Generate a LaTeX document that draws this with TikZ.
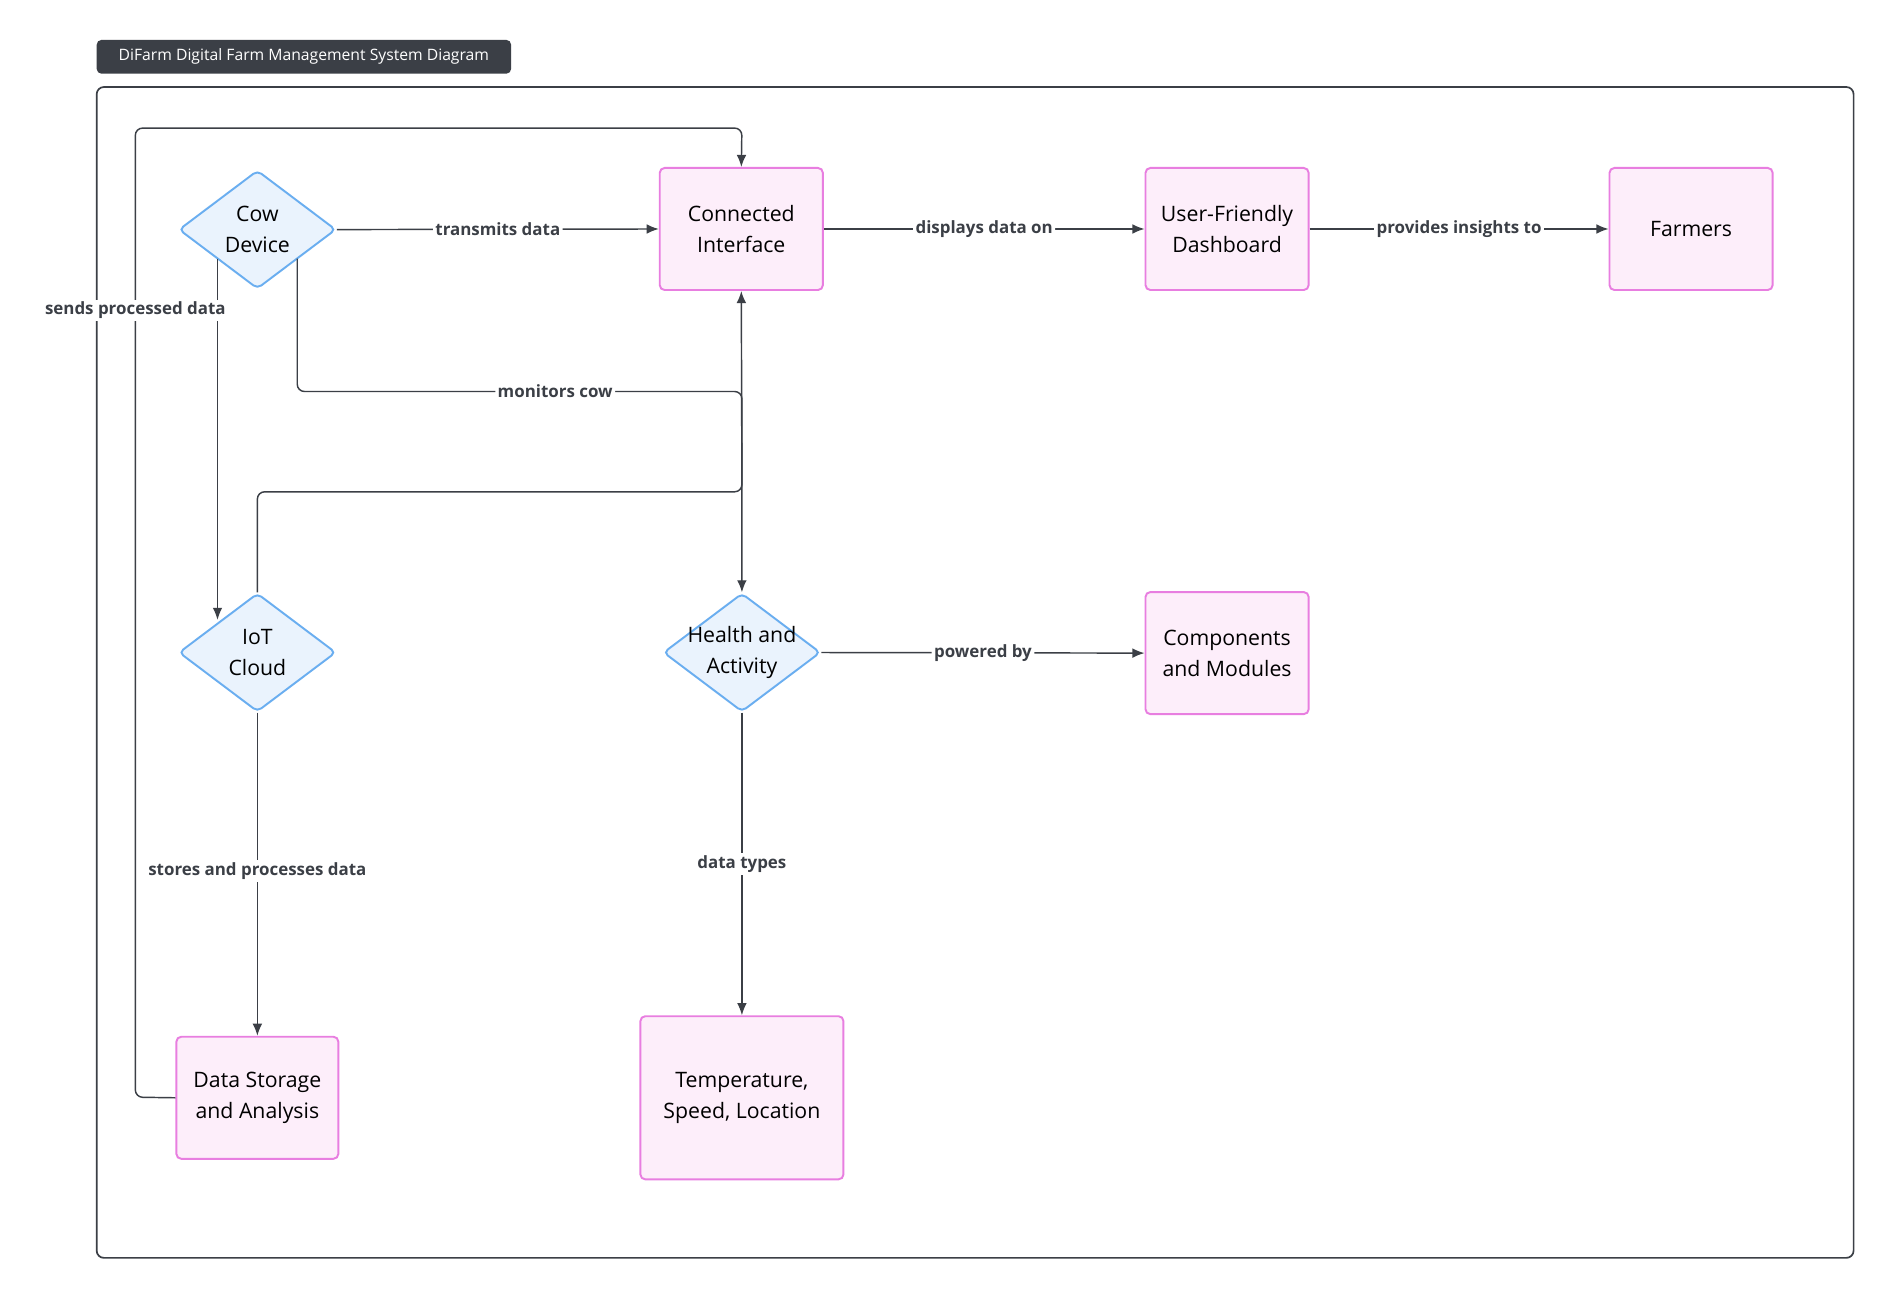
\documentclass[tikz,border=0pt]{standalone}
\usepackage{fontspec}
\setmainfont{Open Sans}
\usetikzlibrary{shapes.geometric,arrows.meta}
\definecolor{ln}{HTML}{3B3F46}
\definecolor{dfill}{HTML}{EAF3FD}
\definecolor{dline}{HTML}{6AAEF0}
\definecolor{rfill}{HTML}{FDEEFA}
\definecolor{rline}{HTML}{E87EE0}
\begin{document}
\begin{tikzpicture}[x=0.5pt,y=-0.5pt,
  dia/.style={diamond,draw=dline,fill=dfill,line width=0.8pt,minimum width=65pt,minimum height=49pt,inner sep=0pt,rounded corners=2pt},
  dtext/.style={align=center,font=\fontsize{8.8}{13}\selectfont,inner sep=0pt},
  box/.style={rectangle,draw=rline,fill=rfill,line width=0.8pt,rounded corners=2pt,align=center,font=\fontsize{8.8}{13}\selectfont},
  arr/.style={draw=ln,line width=0.6pt,-{Latex[length=5pt,width=4pt]},rounded corners=3pt},
  lab/.style={fill=white,inner sep=1pt,font=\bfseries\fontsize{7}{8}\selectfont,text=ln}]
\useasboundingbox (0,0) rectangle (1560,1072);
\fill[white] (0,0) rectangle (1560,1072);
\node[fill=ln,rounded corners=2pt,text=white,font=\fontsize{6.5}{8}\selectfont,minimum width=171.5pt,minimum height=14pt,inner sep=0pt] (title) at (251.5,47) {DiFarm Digital Farm Management System Diagram};
\draw[ln,line width=0.7pt,rounded corners=3pt] (80,72) rectangle (1534,1041);

\node[dia] (cow) at (213,190) {};
\node[dtext] at (cow) {Cow\\Device};
\node[dia] (iot) at (213,540) {};
\node[dtext] at (iot) {IoT\\Cloud};
\node[dia] (health) at (614,540) {};
\node[dtext] at (health) {Health and\\Activity};
\node[box,minimum width=67.5pt,minimum height=50.5pt] (ci) at (613.5,189.5) {Connected\\Interface};
\node[box,minimum width=67.5pt,minimum height=50.5pt] (dash) at (1015.5,189.5) {User-Friendly\\Dashboard};
\node[box,minimum width=67.5pt,minimum height=50.5pt] (farm) at (1399.5,189.5) {Farmers};
\node[box,minimum width=67.5pt,minimum height=50.5pt] (comp) at (1015.5,540.5) {Components\\and Modules};
\node[box,minimum width=67pt,minimum height=50.5pt] (ds) at (213,908.5) {Data Storage\\and Analysis};
\node[box,minimum width=84pt,minimum height=67.5pt] (temp) at (614,908.5) {Temperature,\\Speed, Location};

\coordinate (cowa) at (180,214);
\coordinate (cowb) at (246,214);

\draw[arr] (cow.east) -- node[lab]{transmits data} (ci.west);
\draw[arr] (ci.east) -- node[lab]{displays data on} (dash.west);
\draw[arr] (dash.east) -- node[lab]{provides insights to} (farm.west);
\draw[arr] (cowa) -- (180,513);
\draw[arr] (cowb) -- (246,324) -- node[lab,pos=0.58]{monitors cow} (614,324) -- (health.north);
\draw[arr] (iot.north) -- (213,407) -- (614,407) -- (ci.south);
\draw[arr] (ds.west) -- (112,908) -- (112,106) -- (614,106) -- (ci.north);
\node[lab] at (112,257) {sends processed data};
\draw[arr] (iot.south) -- node[lab,pos=0.49]{stores and processes data} (ds.north);
\draw[arr] (health.east) -- node[lab]{powered by} (comp.west);
\draw[arr] (health.south) -- node[lab,pos=0.5]{data types} (temp.north);
\end{tikzpicture}
\end{document}
